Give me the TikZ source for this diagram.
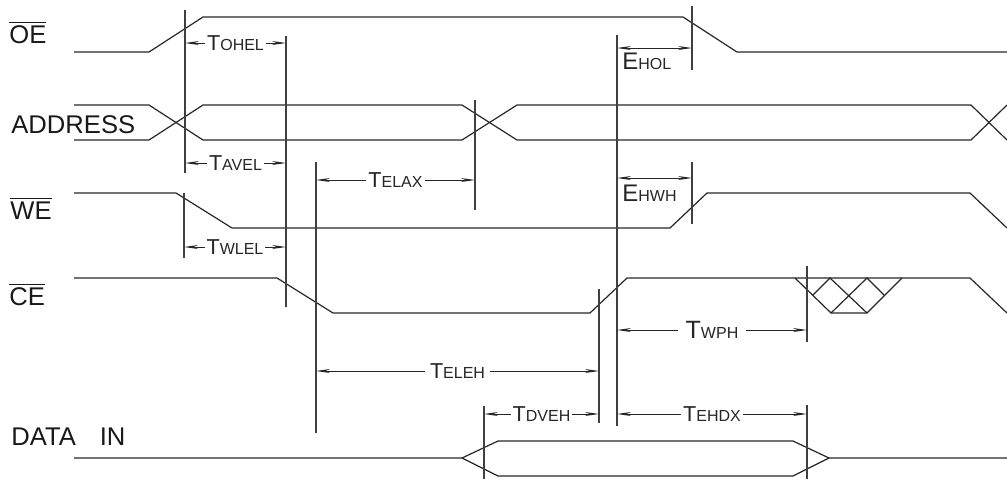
\documentclass[tikz,border=0pt]{standalone}
\usepackage{fontspec}
\setmainfont{Liberation Sans}
\usetikzlibrary{arrows.meta,positioning}

% timing label: big first letter, small caps for the rest
\newcommand{\tlbl}[3][10.8]{{\fontsize{#1}{#1}\selectfont #2}{\fontsize{8}{8}\selectfont #3}}

\begin{document}
\begin{tikzpicture}[
    x=0.5pt, y=-0.5pt,
    wave/.style={line width=0.6pt, black!85, line join=miter},
    guide/.style={line width=0.6pt, black!75},
    dim/.style={line width=0.5pt, black!85, {Stealth[length=7pt,width=2pt]}-{Stealth[length=7pt,width=2pt]}},
    signame/.style={anchor=base west, inner sep=0pt, font=\fontsize{12.8}{14}\selectfont, text=black!90},
    tlab/.style={fill=white, inner ysep=1pt, inner xsep=1pt, text=black!85},
    elab/.style={anchor=base west, inner sep=0pt, text=black!85}
]

\useasboundingbox (0,0) rectangle (1007,479);

% Signal names
\node[signame] (oe) at (9,43) {$\overline{\hbox{OE}}$};
\node[signame] (addr) at (11,133) {ADDRESS};
\node[signame] (we) at (10,219) {$\overline{\hbox{WE}}$};
\node[signame] (ce) at (9,305) {$\overline{\hbox{CE}}$};
\node[signame] (data) at (11,445) {DATA\hspace*{12pt}IN};

% Waveforms
\draw[wave] (74,52) -- (149,52) -- (203,17) -- (683,17) -- (737,52) -- (1007,52);
\draw[wave] (74,105) -- (149,105) -- (203,140) -- (462,140) -- (517,105) -- (971,105) -- (1007,140);
\draw[wave] (74,140) -- (149,140) -- (203,105) -- (462,105) -- (517,140) -- (971,140) -- (1007,105);
\draw[wave] (74,193) -- (176,193) -- (232,228) -- (670,228) -- (707,193) -- (970,193) -- (1007,228);
\draw[wave] (74,278) -- (277,278) -- (333,313) -- (590,313) -- (627,278) -- (970,278) -- (1007,313);
\draw[wave] (74,458) -- (462,458) -- (498,441) -- (793,441) -- (829,458) -- (1007,458);
\draw[wave] (462,458) -- (498,476) -- (793,476) -- (829,458);

% Don't care region on CE
\draw[wave] (795,278) -- (831,313) -- (867,313) -- (902,278);
\draw[wave] (813,295) -- (830,278) -- (867,313);
\draw[wave] (831,313) -- (867,278) -- (884,295);

% Guide lines
\draw[guide] (185,10) -- (185,173);
\draw[guide] (184,193) -- (184,258);
\draw[guide] (286,36) -- (286,307);
\draw[guide] (316,162) -- (316,433);
\draw[guide] (475,100) -- (475,210);
\draw[guide] (617,35) -- (617,426);
\draw[guide] (692,6) -- (692,70);
\draw[guide] (692,162) -- (692,224);
\draw[guide] (599,289) -- (599,423);
\draw[guide] (807,266) -- (807,342);
\draw[guide] (807,405) -- (807,479);
\draw[guide] (484,406) -- (484,479);

% Timing dimensions
\draw[dim] (185,43) -- node[tlab] (tohel) {\tlbl{T}{OHEL}} (286,43);
\draw[dim] (185,163) -- node[tlab] (tavel) {\tlbl{T}{AVEL}} (286,163);
\draw[dim] (184,247) -- node[tlab] (twlel) {\tlbl{T}{WLEL}} (286,247);
\draw[dim] (316,180) -- node[tlab] (telax) {\tlbl{T}{ELAX}} (475,180);
\draw[dim] (617,48) -- (692,48);
\node[elab] (ehol) at (622,69) {\tlbl[12]{E}{HOL}};
\draw[dim] (617,178) -- (692,178);
\node[elab] (ehwh) at (622,201) {\tlbl[12]{E}{HWH}};
\draw[dim] (617,330) -- node[tlab, inner xsep=4pt] (twph) {\tlbl[12.5]{T}{WPH}} (807,330);
\draw[dim] (316,371) -- node[tlab, inner xsep=2.5pt] (teleh) {\tlbl{T}{ELEH}} (599,371);
\draw[dim] (484,414) -- node[tlab] (tdveh) {\tlbl{T}{DVEH}} (599,414);
\draw[dim] (617,414) -- node[tlab] (tehdx) {\tlbl{T}{EHDX}} (807,414);

\end{tikzpicture}
\end{document}
